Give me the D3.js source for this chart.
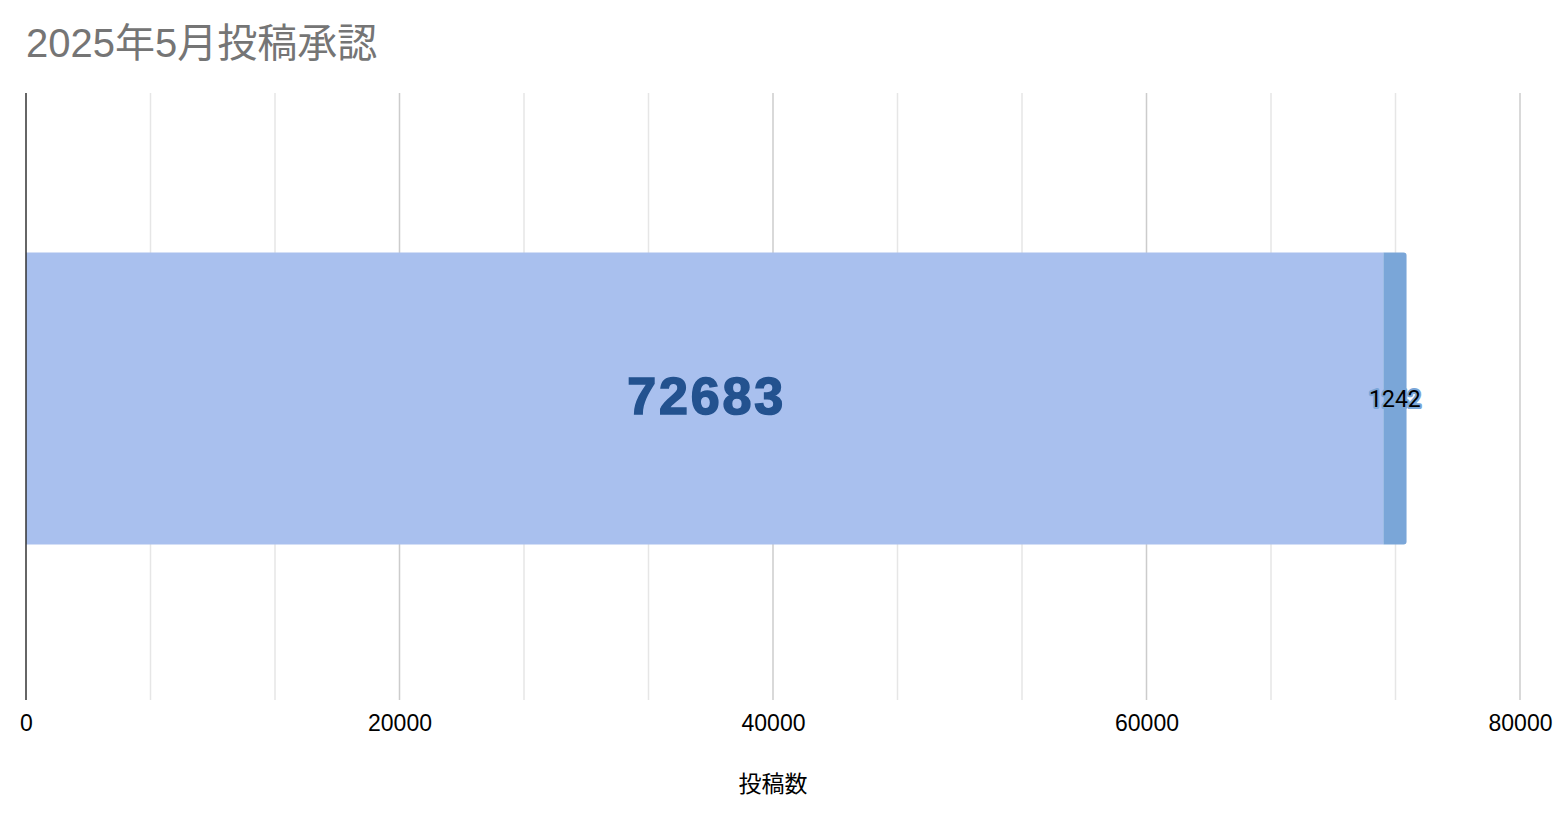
<!DOCTYPE html>
<html>
<head>
<meta charset="utf-8">
<script src="https://cdn.jsdelivr.net/npm/d3@7"></script>
<style>
  body { margin: 0; background: #fff; }
  svg { display: block; }
</style>
</head>
<body>
<div id="chart"></div>
<script>
const width = 1558;
const height = 824;
const margin = {top: 93, right: 38, bottom: 124, left: 26};

// data
const categories = ["2025年5月"];
const seriesNames = ["承認", "非承認"];
const approved = [72683];
const rejected = [1242];
const xTicks = [0, 20000, 40000, 60000, 80000];
const colors = ["#a9c0ee", "#7aa6d8"];

const rows = categories.map((c, i) => ({cat: c, "承認": approved[i], "非承認": rejected[i]}));
const stacked = d3.stack().keys(seriesNames)(rows);

const x = d3.scaleLinear()
    .domain([0, 80000])
    .range([margin.left, width - margin.right]);

const y = d3.scaleBand()
    .domain(categories)
    .range([margin.top + 4, height - margin.bottom])
    .padding(0.3475);

const svg = d3.select("#chart").append("svg")
    .attr("width", width)
    .attr("height", height)
    .style("font-family", "'Liberation Sans', Arial, 'Noto Sans CJK JP', sans-serif");

// title
svg.append("text")
    .attr("x", 26)
    .attr("y", 57)
    .attr("fill", "#757575")
    .style("font-size", "40px")
    .text("2025年5月投稿承認");

// gridlines: minor every 20000/3, major every 20000
const minor = d3.range(0, 80001, 20000 / 3).filter(v => Math.abs(v / 20000 - Math.round(v / 20000)) > 1e-6);
svg.append("g")
  .selectAll("line")
  .data(minor)
  .join("line")
    .attr("x1", d => x(d)).attr("x2", d => x(d))
    .attr("y1", margin.top).attr("y2", height - margin.bottom)
    .attr("stroke", "#e6e6e6")
    .attr("stroke-width", 1.5);

svg.append("g")
  .selectAll("line")
  .data(xTicks.slice(1))
  .join("line")
    .attr("x1", d => x(d)).attr("x2", d => x(d))
    .attr("y1", margin.top).attr("y2", height - margin.bottom)
    .attr("stroke", "#cccccc")
    .attr("stroke-width", 1.5);

// bars
const layer = svg.append("g")
  .selectAll("g")
  .data(stacked)
  .join("g")
    .attr("fill", (d, i) => colors[i]);

layer.selectAll("path")
  .data((d, i) => d.map(v => ({v, last: i === stacked.length - 1})))
  .join("path")
    .attr("d", ({v, last}) => {
      const x0 = x(v[0]), x1 = x(v[1]);
      const y0 = y(v.data.cat), h = y.bandwidth();
      const r = last ? 3 : 0;
      return `M${x0},${y0}H${x1 - r}Q${x1},${y0} ${x1},${y0 + r}V${y0 + h - r}Q${x1},${y0 + h} ${x1 - r},${y0 + h}H${x0}Z`;
    });

// zero axis line
svg.append("line")
    .attr("x1", x(0)).attr("x2", x(0))
    .attr("y1", margin.top).attr("y2", height - margin.bottom)
    .attr("stroke", "#333")
    .attr("stroke-width", 1.5);

// value labels
const s0 = stacked[0][0];
svg.append("text")
    .attr("x", (x(s0[0]) + x(s0[1])) / 2 + 2)
    .attr("y", y(categories[0]) + y.bandwidth() / 2 + 15)
    .attr("text-anchor", "middle")
    .attr("fill", "#23528f")
    .attr("stroke", "#23528f")
    .attr("stroke-width", 1.6)
    .attr("letter-spacing", 2.8)
    .style("font-weight", "bold")
    .style("font-size", "52px")
    .text(approved[0]);

const s1 = stacked[1][0];
svg.append("text")
    .attr("x", (x(s1[0]) + x(s1[1])) / 2)
    .attr("y", y(categories[0]) + y.bandwidth() / 2)
    .attr("dy", "0.35em")
    .attr("text-anchor", "middle")
    .attr("fill", "#000")
    .attr("stroke", colors[1])
    .attr("stroke-width", 4)
    .attr("stroke-linejoin", "round")
    .attr("paint-order", "stroke")
    .style("font-family", "Roboto, sans-serif")
    .style("font-size", "23px")
    .text(rejected[0]);

// x axis
const axis = svg.append("g")
    .attr("transform", `translate(0,${height - margin.bottom})`)
    .call(d3.axisBottom(x).tickValues(xTicks).tickSize(0).tickPadding(15).tickFormat(d3.format("d")));
axis.select(".domain").remove();
axis.selectAll("text")
    .attr("fill", "#000")
    .style("font-family", "'Liberation Sans', Arial, sans-serif")
    .style("font-size", "23px");

// axis title
svg.append("text")
    .attr("x", (x(0) + x(80000)) / 2)
    .attr("y", 792)
    .attr("text-anchor", "middle")
    .attr("fill", "#000")
    .style("font-family", "'Noto Sans CJK JP', sans-serif")
    .style("font-size", "23px")
    .text("投稿数");
</script>
</body>
</html>
